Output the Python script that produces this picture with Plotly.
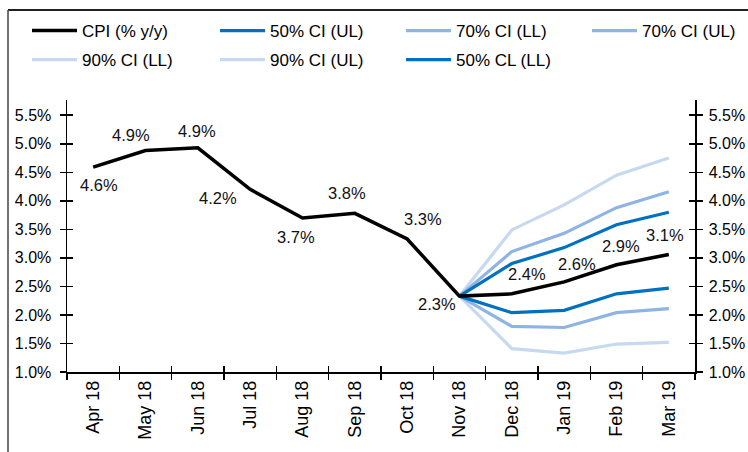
import plotly.graph_objects as go

months = ["Apr 18", "May 18", "Jun 18", "Jul 18", "Aug 18", "Sep 18",
          "Oct 18", "Nov 18", "Dec 18", "Jan 19", "Feb 19", "Mar 19"]
cpi = [4.59, 4.88, 4.93, 4.20, 3.70, 3.78, 3.33, 2.33, 2.37, 2.58, 2.88, 3.06]
ci50_ul = [None] * 7 + [2.33, 2.90, 3.18, 3.58, 3.80]
ci50_ll = [None] * 7 + [2.33, 2.04, 2.08, 2.37, 2.47]
ci70_ul = [None] * 7 + [2.33, 3.11, 3.43, 3.88, 4.16]
ci70_ll = [None] * 7 + [2.33, 1.80, 1.78, 2.04, 2.11]
ci90_ul = [None] * 7 + [2.33, 3.49, 3.93, 4.45, 4.75]
ci90_ll = [None] * 7 + [2.33, 1.41, 1.33, 1.49, 1.52]
y_ticks = [1.0, 1.5, 2.0, 2.5, 3.0, 3.5, 4.0, 4.5, 5.0, 5.5]

# label offsets (px) for CPI data labels
label_dx = [6, -15, -1, -32, -7, -8, 16, -23, 15, 13, 4, -4]
label_dy = [-18, 16, 17, -9, -19, 20, 20, -8, 20, 18, 19, 19]

C50 = "#0070C0"
C70 = "#8DB4E2"
C90 = "#C6D9F1"
FONT = "Liberation Sans, Arial, sans-serif"

fig = go.Figure()
# (name, values, colour, legend column, row)
series = [
    ("90% CI (LL)", ci90_ll, C90, "legend", 2),
    ("90% CI (UL)", ci90_ul, C90, "legend2", 2),
    ("70% CI (LL)", ci70_ll, C70, "legend3", 1),
    ("70% CI (UL)", ci70_ul, C70, "legend4", 1),
    ("50% CL (LL)", ci50_ll, C50, "legend3", 2),
    ("50% CI (UL)", ci50_ul, C50, "legend2", 1),
]
for name, vals, col, leg, rank in series:
    fig.add_trace(go.Scatter(x=months, y=vals, name=name, mode="lines",
                             line=dict(color=col, width=3.2), legend=leg,
                             legendrank=rank, legendgroup=name))
fig.add_trace(go.Scatter(x=months, y=cpi, name="CPI (% y/y)", mode="lines",
                         line=dict(color="black", width=3.5), legend="legend",
                         legendrank=1, legendgroup="cpi"))

for m, v, dx, dy in zip(months, cpi, label_dx, label_dy):
    fig.add_annotation(x=m, y=v, text=f"{v:.1f}%", showarrow=False,
                       xshift=dx, yshift=dy,
                       font=dict(family=FONT, size=16.5, color="#111"))

yr = [1.0, 5.767]
axis_common = dict(showgrid=False, zeroline=False, showline=True,
                   linecolor="black", linewidth=1.5)


def leg(xpx):
    return dict(orientation="v", xref="container", yref="container",
                x=xpx / 748, y=1 - 13 / 452, xanchor="left", yanchor="top",
                font=dict(family=FONT, size=17, color="black"),
                itemwidth=45, bgcolor="rgba(0,0,0,0)", tracegroupgap=4,
                traceorder="grouped")


fig.update_layout(
    width=748, height=452,
    margin=dict(l=67, r=53, t=100, b=80, autoexpand=False),
    paper_bgcolor="white", plot_bgcolor="white",
    font=dict(family=FONT, color="black"),
    hovermode=False,
    xaxis=dict(**axis_common, type="category", tickson="boundaries",
               ticks="outside", ticklen=6, tickcolor="black", tickwidth=1.5,
               tickangle=-90, tickfont=dict(size=18, family=FONT),
               range=[-0.5, len(months) - 0.5]),
    xaxis2=dict(**axis_common, overlaying="x", anchor="y",
                range=[-0.5, len(months) - 0.5],
                tickvals=[i + 0.5 for i in range(-1, len(months))],
                ticks="inside", ticklen=6, tickcolor="black", tickwidth=1.5,
                showticklabels=False, side="bottom"),
    yaxis=dict(**axis_common, range=yr, tickvals=y_ticks,
               ticktext=[f"{t:.1f}%" for t in y_ticks],
               ticks="outside", ticklen=6, tickcolor="black", tickwidth=1.5,
               tickfont=dict(size=16, family=FONT), ticklabelstandoff=5),
    yaxis2=dict(**axis_common, range=yr, tickvals=y_ticks,
                ticktext=[f"{t:.1f}%" for t in y_ticks],
                overlaying="y", side="right", anchor="x",
                ticks="outside", ticklen=6, tickcolor="black", tickwidth=1.5,
                tickfont=dict(size=16, family=FONT), ticklabelstandoff=3),
    yaxis3=dict(**axis_common, range=yr, tickvals=y_ticks, overlaying="y",
                side="left", anchor="x", ticks="inside", ticklen=6,
                tickcolor="black", tickwidth=1.5, showticklabels=False),
    yaxis4=dict(**axis_common, range=yr, tickvals=y_ticks, overlaying="y",
                side="right", anchor="x", ticks="inside", ticklen=6,
                tickcolor="black", tickwidth=1.5, showticklabels=False),
    legend=leg(27),
    legend2=leg(215),
    legend3=leg(401),
    legend4=leg(587),
    showlegend=True,
)
# dummy invisible traces so the overlay axes render
fig.add_trace(go.Scatter(x=[None], y=[None], xaxis="x2", yaxis="y3",
                         showlegend=False, hoverinfo="skip"))
fig.add_trace(go.Scatter(x=[None], y=[None], xaxis="x", yaxis="y2",
                         showlegend=False, hoverinfo="skip"))
fig.add_trace(go.Scatter(x=[None], y=[None], xaxis="x", yaxis="y4",
                         showlegend=False, hoverinfo="skip"))

# outer frame (top and left edges visible)
fig.add_shape(type="line", xref="paper", yref="paper",
              x0=-59 / 628, x1=1.2, y0=1 + 90 / 271.7, y1=1 + 90 / 271.7,
              line=dict(color="#222", width=2))
fig.add_shape(type="line", xref="paper", yref="paper",
              x0=-59 / 628, x1=-59 / 628, y0=-0.4, y1=1 + 90 / 271.7,
              line=dict(color="#444", width=1.5))

fig.write_html("out.html",
               config={"displayModeBar": False, "staticPlot": True},
               post_script="document.body.style.margin='0';"
                           "document.body.style.overflow='hidden';")
